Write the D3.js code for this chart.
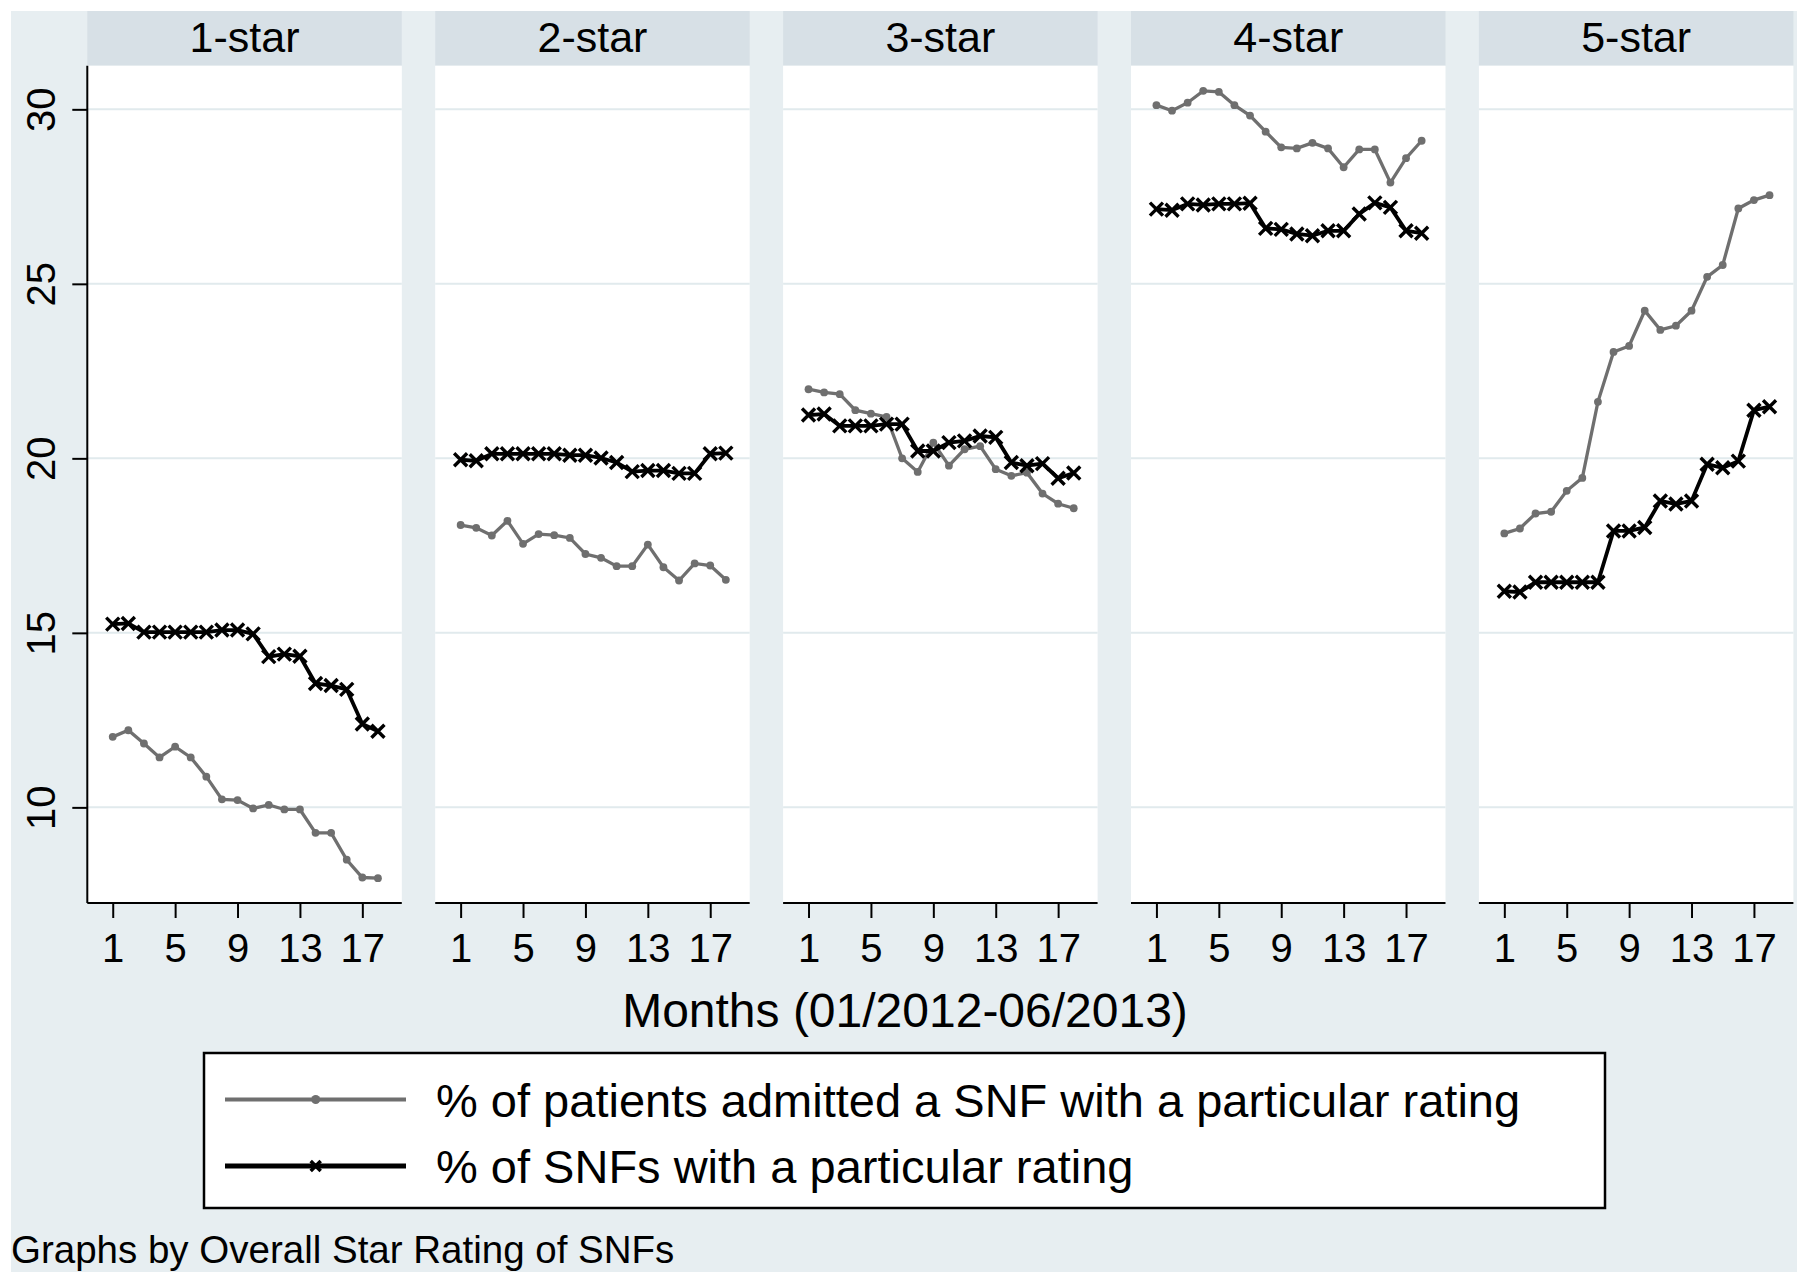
<!DOCTYPE html>
<html>
<head>
<meta charset="utf-8">
<script src="https://cdn.jsdelivr.net/npm/d3@7"></script>
<style>
  html, body { margin: 0; padding: 0; background: #ffffff; }
  svg { display: block; }
  text { font-family: "Liberation Sans", Arial, sans-serif; fill: #000; }
</style>
</head>
<body>
<svg id="chart" width="1800" height="1282"></svg>
<script>
// ---------------- data ----------------
const panels = ["1-star", "2-star", "3-star", "4-star", "5-star"];
const months = [1, 2, 3, 4, 5, 6, 7, 8, 9, 10, 11, 12, 13, 14, 15, 16, 17, 18];
const xTicks = [1, 5, 9, 13, 17];
const yTicks = [10, 15, 20, 25, 30];
const seriesNames = [
  "% of patients admitted a SNF with a particular rating",
  "% of SNFs with a particular rating"
];
const xTitle = "Months (01/2012-06/2013)";
const note = "Graphs by Overall Star Rating of SNFs";

// % of patients admitted to a SNF with a particular rating
const patients1 = [12.02, 12.21, 11.83, 11.43, 11.74, 11.43, 10.88, 10.23, 10.21, 9.97, 10.07, 9.94, 9.94, 9.27, 9.27, 8.50, 7.99, 7.97];
const patients2 = [18.09, 18.01, 17.79, 18.21, 17.55, 17.83, 17.80, 17.72, 17.26, 17.15, 16.91, 16.91, 17.53, 16.88, 16.50, 16.99, 16.93, 16.52];
const patients3 = [21.98, 21.89, 21.84, 21.38, 21.28, 21.19, 20.00, 19.61, 20.45, 19.79, 20.26, 20.35, 19.69, 19.50, 19.59, 18.99, 18.70, 18.57];
const patients4 = [30.12, 29.96, 30.19, 30.53, 30.50, 30.12, 29.82, 29.36, 28.91, 28.88, 29.04, 28.88, 28.34, 28.85, 28.85, 27.90, 28.60, 29.10];
const patients5 = [17.85, 17.99, 18.42, 18.47, 19.07, 19.44, 21.62, 23.05, 23.22, 24.23, 23.68, 23.80, 24.23, 25.20, 25.54, 27.16, 27.40, 27.54];

// % of SNFs with a particular rating
const snfs1 = [15.25, 15.27, 15.02, 15.02, 15.02, 15.02, 15.02, 15.08, 15.08, 14.97, 14.32, 14.39, 14.33, 13.55, 13.49, 13.38, 12.39, 12.18];
const snfs2 = [19.96, 19.93, 20.13, 20.13, 20.13, 20.13, 20.13, 20.09, 20.09, 20.01, 19.88, 19.62, 19.65, 19.65, 19.57, 19.57, 20.13, 20.15];
const snfs3 = [21.24, 21.27, 20.93, 20.93, 20.93, 20.98, 20.98, 20.21, 20.21, 20.45, 20.50, 20.64, 20.60, 19.88, 19.79, 19.85, 19.43, 19.58];
const snfs4 = [27.14, 27.11, 27.29, 27.26, 27.29, 27.29, 27.31, 26.59, 26.56, 26.43, 26.38, 26.52, 26.52, 27.00, 27.32, 27.19, 26.52, 26.45];
const snfs5 = [16.19, 16.17, 16.45, 16.45, 16.45, 16.45, 16.45, 17.92, 17.92, 18.02, 18.78, 18.69, 18.78, 19.83, 19.73, 19.92, 21.38, 21.48];

const patientsData = [patients1, patients2, patients3, patients4, patients5];
const snfsData = [snfs1, snfs2, snfs3, snfs4, snfs5];

// ---------------- layout ----------------
const BG = "#e7eef1";
const STRIP = "#d7e0e6";
const GRID = "#e1eaed";
const GRAY = "#6f6f6f";
const BLACK = "#000000";

const svg = d3.select("#chart");
svg.append("rect").attr("x", 11).attr("y", 11).attr("width", 1786).attr("height", 1261).attr("fill", BG);

const panelLeft0 = 87.3, panelStep = 347.9, panelW = 314.5;
const stripTop = 11, plotTop = 65.7, plotBottom = 903;

const x = d3.scaleLinear().domain([-0.63, 19.53]).range([0, panelW]);
const y = d3.scaleLinear().domain([7.26, 31.25]).range([plotBottom, plotTop]);

function xMark(g, cx, cy, s, w) {
  g.append("path")
    .attr("d", `M${cx - s},${cy - s}L${cx + s},${cy + s}M${cx - s},${cy + s}L${cx + s},${cy - s}`)
    .attr("stroke", BLACK).attr("stroke-width", w).attr("fill", "none");
}

panels.forEach((name, i) => {
  const left = panelLeft0 + i * panelStep;
  const g = svg.append("g").attr("transform", `translate(${left},0)`);

  // strip
  g.append("rect").attr("x", 0).attr("y", stripTop).attr("width", panelW).attr("height", plotTop - stripTop).attr("fill", STRIP);
  g.append("text").attr("x", panelW / 2).attr("y", 51.5).attr("text-anchor", "middle")
    .attr("font-size", 43).text(name);

  // plot area
  g.append("rect").attr("x", 0).attr("y", plotTop).attr("width", panelW).attr("height", plotBottom - plotTop).attr("fill", "#ffffff");

  // gridlines
  g.selectAll("line.grid").data(yTicks).enter().append("line")
    .attr("x1", 0).attr("x2", panelW)
    .attr("y1", d => y(d)).attr("y2", d => y(d))
    .attr("stroke", GRID).attr("stroke-width", 2);

  // x axis
  const xa = g.append("g").attr("transform", `translate(0,${plotBottom})`)
    .call(d3.axisBottom(x).tickValues(xTicks).tickSize(15).tickPadding(16).tickFormat(d3.format("d")));
  xa.select(".domain").attr("stroke", "#000").attr("stroke-width", 2).attr("d", `M0,0H${panelW}`);
  xa.selectAll(".tick line").attr("stroke", "#000").attr("stroke-width", 2);
  xa.selectAll(".tick text").attr("font-size", 40).attr("font-family", "Liberation Sans, Arial, sans-serif").attr("fill", "#000");

  // y axis on first panel
  if (i === 0) {
    const ya = g.append("g").call(d3.axisLeft(y).tickValues(yTicks).tickSize(15).tickFormat(d3.format("d")));
    ya.select(".domain").attr("stroke", "#000").attr("stroke-width", 2).attr("d", `M0,${plotTop}V${plotBottom}`);
    ya.selectAll(".tick line").attr("stroke", "#000").attr("stroke-width", 2);
    ya.selectAll(".tick text").remove();
    ya.selectAll(".tick").append("text")
      .attr("transform", "translate(-32,0) rotate(-90)")
      .attr("text-anchor", "middle").attr("y", 0)
      .attr("font-size", 40).attr("fill", "#000").text(d => d);
  }

  const pts = months.map((m, k) => [m, patientsData[i][k]]);
  const sn = months.map((m, k) => [m, snfsData[i][k]]);
  const line = d3.line().x(d => x(d[0])).y(d => y(d[1]));

  g.append("path").datum(pts).attr("d", line).attr("fill", "none").attr("stroke", GRAY).attr("stroke-width", 3.3);
  g.selectAll("circle.p").data(pts).enter().append("circle")
    .attr("cx", d => x(d[0])).attr("cy", d => y(d[1])).attr("r", 3.9).attr("fill", GRAY);

  g.append("path").datum(sn).attr("d", line).attr("fill", "none").attr("stroke", BLACK).attr("stroke-width", 3.8);
  sn.forEach(d => xMark(g, x(d[0]), y(d[1]), 6.5, 3.4));
});

// x axis title
svg.append("text").attr("x", 905).attr("y", 1027).attr("text-anchor", "middle").attr("font-size", 48).text(xTitle);

// legend
const lg = svg.append("g");
lg.append("rect").attr("x", 204).attr("y", 1053).attr("width", 1401).attr("height", 155)
  .attr("fill", "#ffffff").attr("stroke", "#000").attr("stroke-width", 2.5);
const legY = [1099.5, 1166];
lg.append("line").attr("x1", 225).attr("x2", 406).attr("y1", legY[0]).attr("y2", legY[0]).attr("stroke", GRAY).attr("stroke-width", 4);
lg.append("circle").attr("cx", 315.7).attr("cy", legY[0]).attr("r", 4.5).attr("fill", GRAY);
lg.append("line").attr("x1", 225).attr("x2", 406).attr("y1", legY[1]).attr("y2", legY[1]).attr("stroke", BLACK).attr("stroke-width", 5);
xMark(lg, 315.7, legY[1], 5, 3.5);
lg.selectAll("text.leg").data(seriesNames).enter().append("text")
  .attr("x", 436).attr("y", (d, k) => legY[k] + 17).attr("font-size", 47).text(d => d);

// note
svg.append("text").attr("x", 11).attr("y", 1263).attr("font-size", 38.5).text(note);
</script>
</body>
</html>
